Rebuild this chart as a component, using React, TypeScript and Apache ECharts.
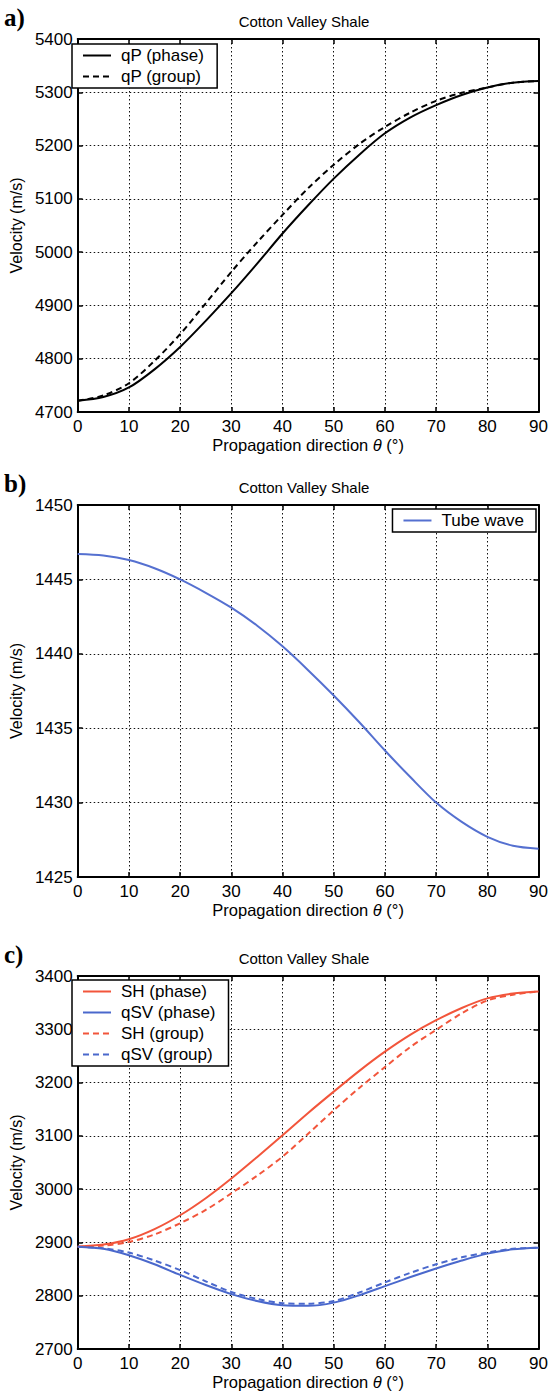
import { useEffect, useRef } from "react";
import * as echarts from "echarts";

const theta = [0, 5, 10, 15, 20, 25, 30, 35, 40, 45, 50, 55, 60, 65, 70, 75, 80, 85, 90];

const qpPhase = [4721, 4728, 4746, 4780, 4822, 4871, 4923, 4978, 5035, 5088, 5138, 5183, 5223, 5253, 5276, 5295, 5309, 5318, 5321];
const qpGroup = [4721, 4731, 4754, 4796, 4846, 4904, 4963, 5018, 5070, 5120, 5164, 5203, 5235, 5262, 5284, 5299, 5309, 5318, 5321];

const tubeWave = [1446.7, 1446.6, 1446.3, 1445.75, 1445.0, 1444.1, 1443.1, 1441.9, 1440.5, 1438.9, 1437.2, 1435.4, 1433.5, 1431.7, 1430.0, 1428.7, 1427.7, 1427.1, 1426.9];

const shPhase = [2892, 2896, 2906, 2925, 2951, 2983, 3020, 3060, 3101, 3143, 3183, 3222, 3258, 3290, 3317, 3340, 3358, 3367, 3371];
const qsvPhase = [2892, 2888, 2876, 2859, 2839, 2820, 2803, 2790, 2782, 2781, 2787, 2801, 2818, 2835, 2851, 2866, 2879, 2887, 2890];
const shGroup = [2892, 2894, 2901, 2915, 2936, 2961, 2992, 3025, 3061, 3104, 3148, 3190, 3229, 3267, 3299, 3330, 3354, 3365, 3371];
const qsvGroup = [2892, 2889, 2881, 2866, 2848, 2827, 2807, 2794, 2786, 2785, 2790, 2806, 2825, 2843, 2859, 2872, 2881, 2888, 2890];

const panelTitle = "Cotton Valley Shale";
const xName = "Propagation direction {i|θ} (°)";
const yName = "Velocity (m/s)";
const panelLetters = ["a)", "b)", "c)"];

const FONT = "'Liberation Sans', Arial, Helvetica, sans-serif";
const RED = "#f2553b";
const BLUE = "#4a68cc";

const pairs = (vals: number[]) => vals.map((v, i) => [theta[i], v]);

const GRID_LEFT = 68;
const GRID_W = 472;
const panels = [
  { top: 39, height: 373, min: 4700, max: 5400, interval: 100 },
  { top: 505, height: 372, min: 1425, max: 1450, interval: 5 },
  { top: 976, height: 373, min: 2700, max: 3400, interval: 100 },
];

export default function App() {
  const ref = useRef<HTMLDivElement>(null);
  useEffect(() => {
    const chart = echarts.init(ref.current!, null, { renderer: "svg" });
    const grids: any[] = [];
    const xAxes: any[] = [];
    const yAxes: any[] = [];
    const graphics: any[] = [];
    const frameLine = { show: true, onZero: false, lineStyle: { color: "#000", width: 2 } };
    const tick = { show: true, inside: true, length: 5, lineStyle: { color: "#000", width: 1.5 } };
    const dotted = { show: true, lineStyle: { color: "#111", width: 1, type: [1.5, 2.5] } };
    const plain = (v: number) => String(v);
    panels.forEach((p, gi) => {
      grids.push({ left: GRID_LEFT, width: GRID_W, top: p.top, height: p.height, containLabel: false });
      xAxes.push({
        type: "value", gridIndex: gi, position: "bottom", min: 0, max: 90, interval: 10,
        axisLine: frameLine, axisTick: tick, splitLine: dotted,
        axisLabel: { color: "#000", fontSize: 17, fontFamily: FONT, margin: 6, formatter: plain },
        name: xName, nameLocation: "middle", nameGap: 24,
        nameTextStyle: {
          color: "#000", fontSize: 16.5, fontFamily: FONT,
          rich: { i: { fontStyle: "italic", fontSize: 16.5, fontFamily: FONT, color: "#000" } },
        },
      });
      xAxes.push({
        type: "value", gridIndex: gi, position: "top", min: 0, max: 90, interval: 10,
        axisLine: frameLine, axisTick: tick, splitLine: { show: false }, axisLabel: { show: false },
      });
      yAxes.push({
        type: "value", gridIndex: gi, position: "left", min: p.min, max: p.max, interval: p.interval,
        axisLine: frameLine, axisTick: tick, splitLine: dotted,
        axisLabel: { color: "#000", fontSize: 17, fontFamily: FONT, margin: 5, formatter: plain },
        name: yName, nameLocation: "middle", nameRotate: 90, nameGap: 44,
        nameTextStyle: { color: "#000", fontSize: 16, fontFamily: FONT },
      });
      yAxes.push({
        type: "value", gridIndex: gi, position: "right", min: p.min, max: p.max, interval: p.interval,
        axisLine: frameLine, axisTick: tick, splitLine: { show: false }, axisLabel: { show: false },
      });
      graphics.push({
        type: "text", x: 4, y: p.top - 22,
        style: { text: panelLetters[gi], font: "bold 25px 'Liberation Serif', 'Times New Roman', serif", fill: "#000", textVerticalAlign: "middle" },
      });
      graphics.push({
        type: "text", x: GRID_LEFT + GRID_W / 2, y: p.top - 18,
        style: { text: panelTitle, font: `15px ${FONT}`, fill: "#000", textAlign: "center", textVerticalAlign: "middle" },
      });
    });

    const legendBase = {
      orient: "vertical",
      backgroundColor: "#fff",
      borderColor: "#000",
      borderWidth: 1.5,
      borderRadius: 0,
      itemWidth: 28,
      itemHeight: 12,
      itemGap: 2,
      itemStyle: { opacity: 0 },
      textStyle: { color: "#000", fontSize: 17, fontFamily: FONT, lineHeight: 19, padding: [0, 0, 0, 5] },
    };

    const line = (name: string, vals: number[], idx: number, color: string, dashed: boolean) => ({
      name, type: "line", xAxisIndex: idx * 2, yAxisIndex: idx * 2, data: pairs(vals),
      symbol: "none", showSymbol: false, smooth: 0.3,
      lineStyle: { color, width: 2, type: dashed ? [6, 4] : "solid" },
      itemStyle: { color },
      z: 5,
    });

    chart.setOption({
      animation: false,
      backgroundColor: "#fff",
      grid: grids,
      xAxis: xAxes,
      yAxis: yAxes,
      graphic: graphics,
      legend: [
        { ...legendBase, left: 72, top: 44, padding: [2, 13, 2, 10], data: ["qP (phase)", "qP (group)"] },
        { ...legendBase, right: 15, top: 509, padding: [2, 12, 2, 10], data: ["Tube wave"] },
        { ...legendBase, left: 72, top: 980, padding: [2, 13, 2, 10], data: ["SH (phase)", "qSV (phase)", "SH (group)", "qSV (group)"] },
      ],
      series: [
        line("qP (phase)", qpPhase, 0, "#000", false),
        line("qP (group)", qpGroup, 0, "#000", true),
        line("Tube wave", tubeWave, 1, "#5570d0", false),
        line("SH (phase)", shPhase, 2, RED, false),
        line("qSV (phase)", qsvPhase, 2, BLUE, false),
        line("SH (group)", shGroup, 2, RED, true),
        line("qSV (group)", qsvGroup, 2, BLUE, true),
      ],
    });
    return () => chart.dispose();
  }, []);
  return (
    <div
      ref={ref}
      style={{ position: "absolute", left: 0, top: 0, width: 551, height: 1391, background: "#fff" }}
    />
  );
}
